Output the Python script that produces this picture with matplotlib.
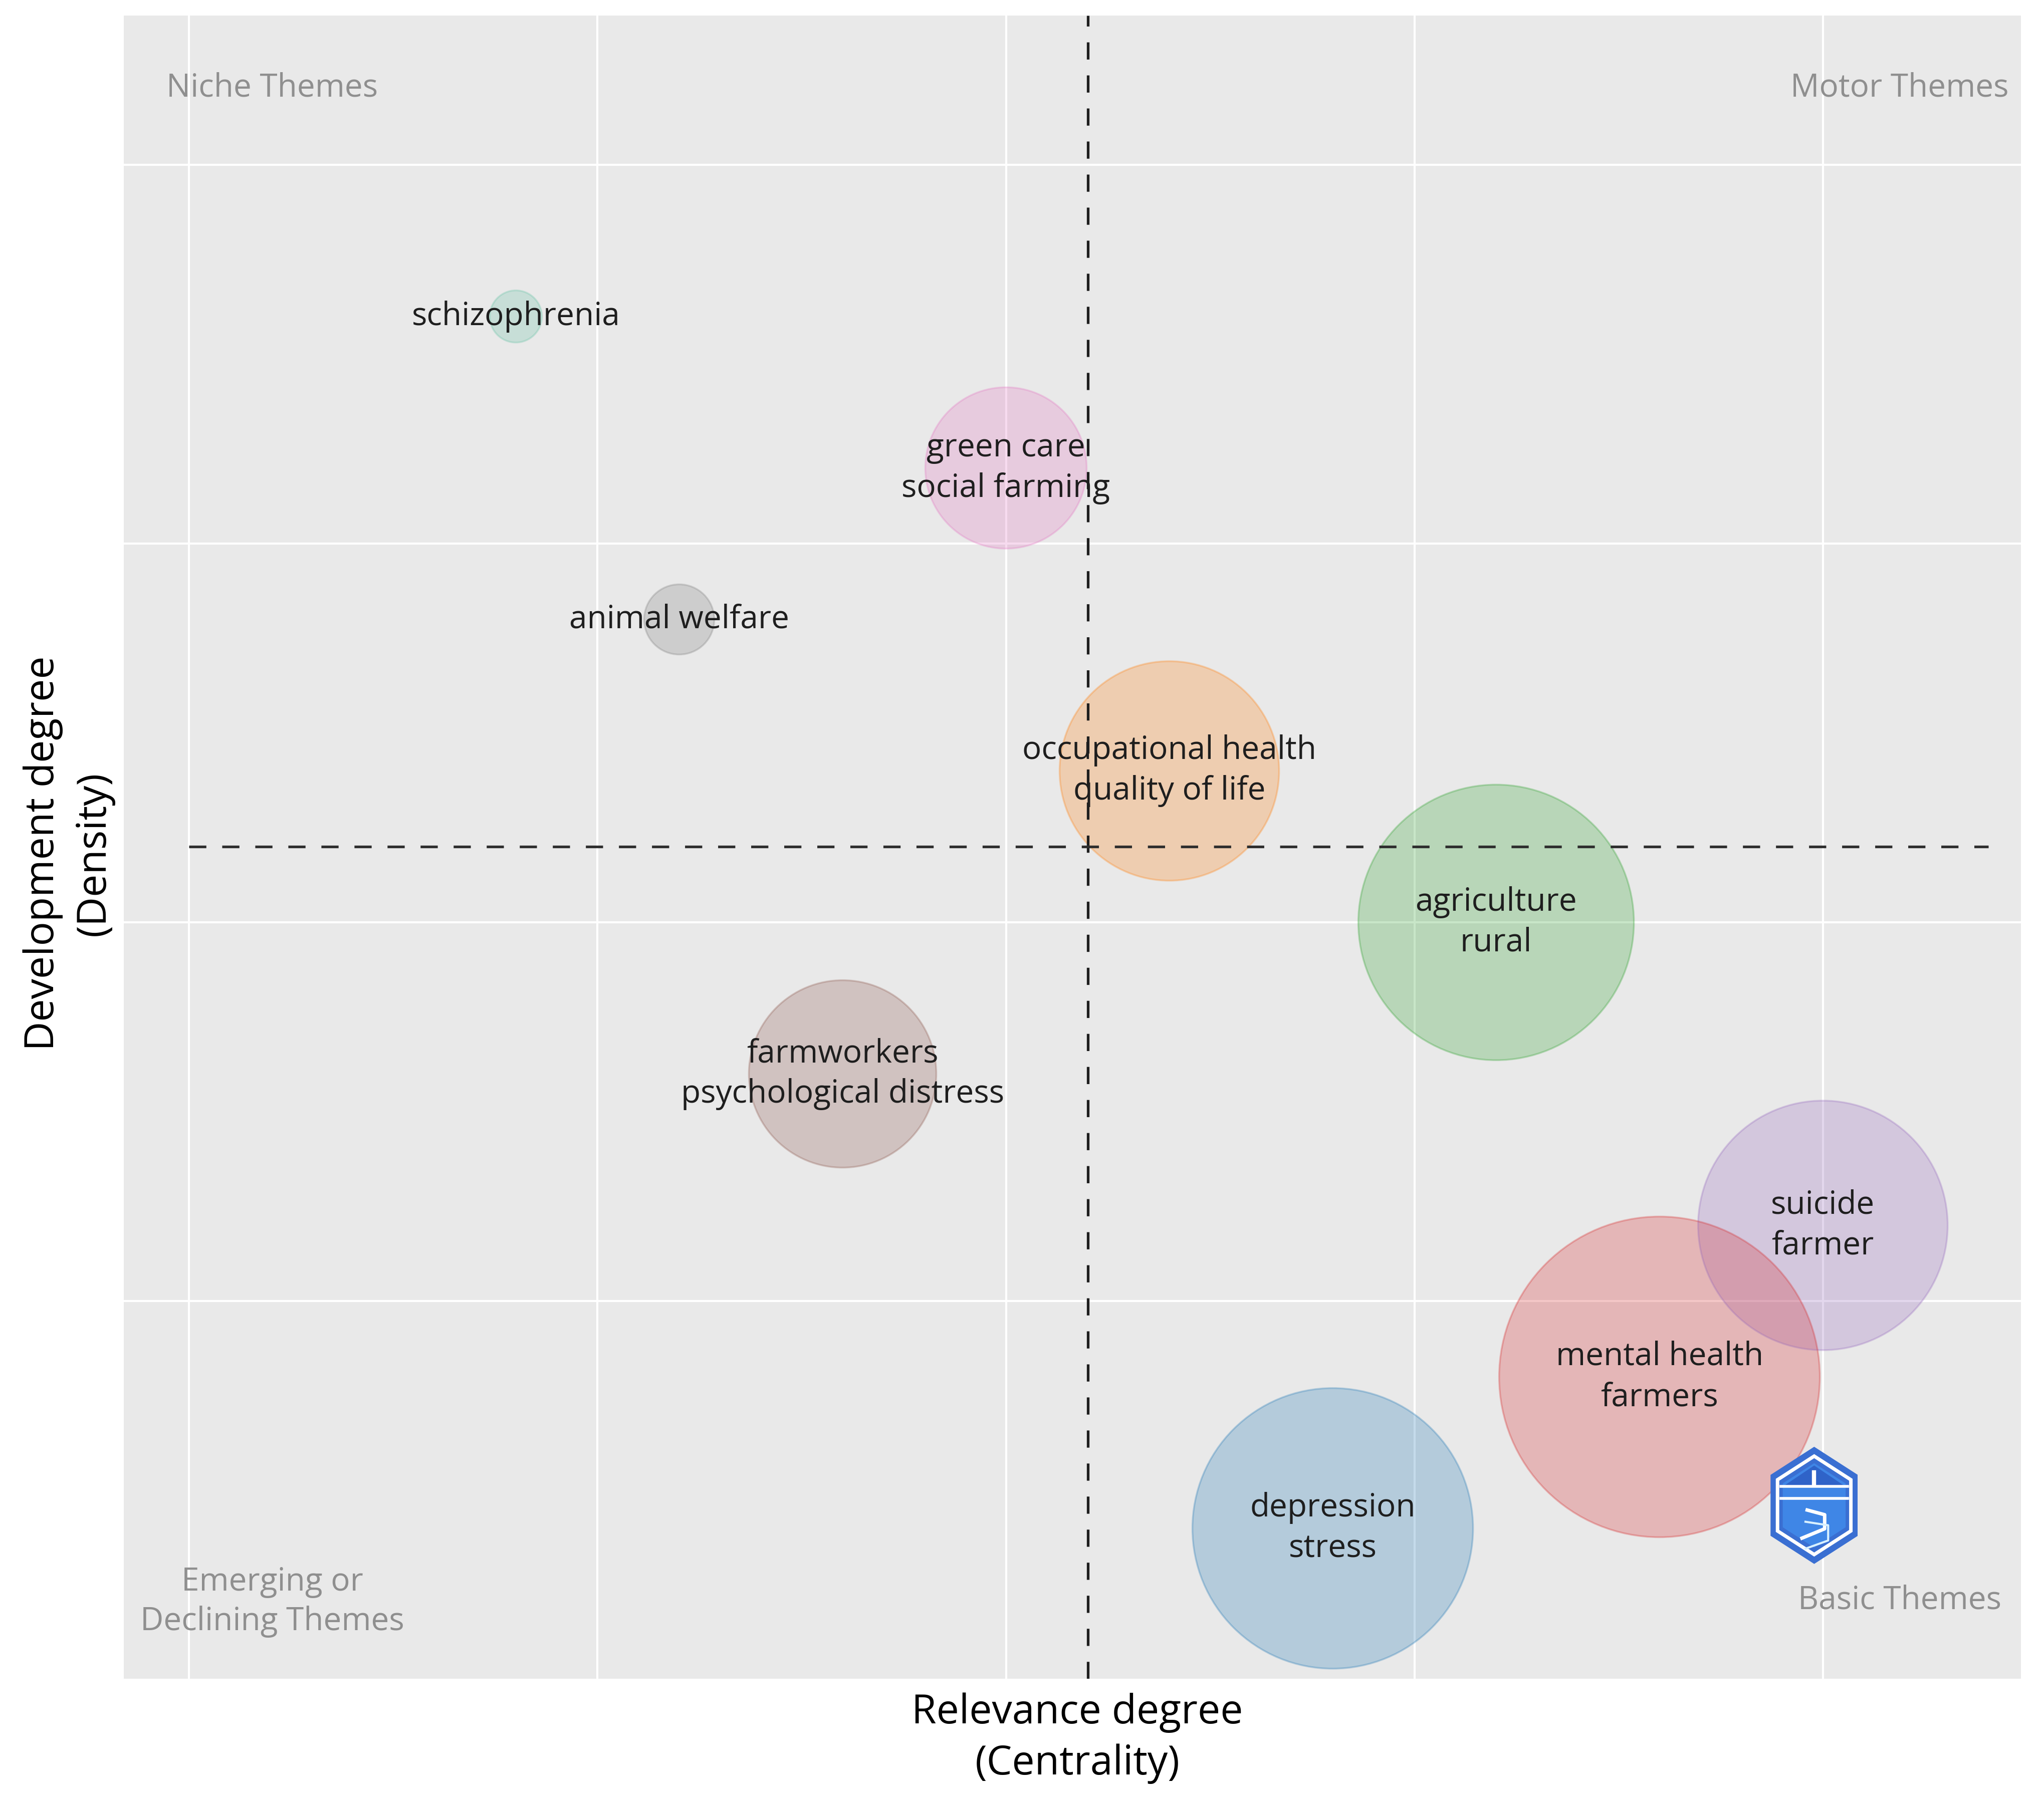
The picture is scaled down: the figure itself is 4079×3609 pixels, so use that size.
import matplotlib
matplotlib.use("Agg")
import matplotlib.pyplot as plt
from matplotlib.patches import Polygon
import numpy as np

plt.rcParams['font.family'] = ['Open Sans', 'DejaVu Sans']

# clusters of the thematic map
labels = ['schizophrenia',
          'green care\nsocial farming',
          'animal welfare',
          'occupational health\nquality of life',
          'agriculture\nrural',
          'farmworkers\npsychological distress',
          'suicide\nfarmer',
          'mental health\nfarmers',
          'depression\nstress']
centrality = [0.80, 2.00, 1.20, 2.40, 3.20, 1.60, 4.00, 3.60, 2.80]
density = [2.60, 2.20, 1.80, 1.40, 1.00, 0.60, 0.20, -0.20, -0.60]
bubble = [52, 161, 70, 219, 275, 187, 249, 320, 280]  # bubble radius
colors = ['#66c2a5', '#e377c2', '#7f7f7f', '#ff7f0e', '#2ca02c',
          '#8c564b', '#9467bd', '#d62728', '#1f77b4']

centrality_cut = 2.20
density_cut = 1.20

DPI = 100
fig = plt.figure(figsize=(40.8, 36.09), dpi=DPI)
ax = fig.add_axes([0.0605, 0.0715, 0.928, 0.920])
ax.set_facecolor('#e9e9e9')

sizes = [(2 * r * 72 / DPI) ** 2 for r in bubble]
ax.scatter(centrality, density, s=sizes, c=colors, alpha=0.26,
           linewidths=0, zorder=2)
ax.scatter(centrality, density, s=sizes, facecolors='none',
           edgecolors=colors, alpha=0.3, linewidths=2.5, zorder=2)

for x, y, lab in zip(centrality, density, labels):
    ax.text(x, y, lab, ha='center', va='center', fontsize=46,
            color='#1e1e1e', linespacing=1.35, zorder=3)

# reference lines
ax.axvline(centrality_cut, color='#1e1e1e', lw=3.8, dashes=(6.5, 6), zorder=4)
ax.hlines(density_cut, 0, 4.405, color='#2e2e2e', lw=3.8,
          linestyles=(0, (6.5, 6)), zorder=4)

# quadrant names
qcol = '#8f8f8f'
ax.text(0.204, 3.203, 'Niche Themes', ha='center', va='center',
        fontsize=46, color=qcol)
ax.text(4.188, 3.203, 'Motor Themes', ha='center', va='center',
        fontsize=46, color=qcol)
ax.text(0.204, -0.794, 'Emerging or\nDeclining Themes', ha='center',
        va='center', fontsize=46, color=qcol, linespacing=1.3)
ax.text(4.188, -0.790, 'Basic Themes', ha='center', va='center',
        fontsize=46, color=qcol)

ax.set_xlim(-0.16, 4.485)
ax.set_ylim(-0.997, 3.395)
ax.set_xticks([0, 1, 2, 3, 4])
ax.set_yticks([0, 1, 2, 3])
ax.tick_params(length=0, labelbottom=False, labelleft=False)
ax.grid(True, color='white', lw=3)
ax.set_axisbelow(True)
for sp in ax.spines.values():
    sp.set_visible(False)

fig.text(0.527, 0.0385, 'Relevance degree\n(Centrality)', ha='center',
         va='center', fontsize=58, linespacing=1.35)
fig.text(0.0335, 0.528, 'Development degree\n(Density)', ha='center',
         va='center', fontsize=58, rotation=90, linespacing=1.35)

# logo
lax = fig.add_axes([0.866, 0.135, 0.0427, 0.0648])
lax.set_xlim(0, 1)
lax.set_ylim(0, 1)
lax.axis('off')
hexv = np.array([[0.5, 1], [1, 0.76], [1, 0.24], [0.5, 0], [0, 0.24], [0, 0.76]])
lax.add_patch(Polygon(hexv, closed=True, fc='#3a6fd2', ec='none'))
inner = 0.5 + (hexv - 0.5) * 0.84
lax.add_patch(Polygon(inner, closed=True, fc='none', ec='white', lw=5))
inner2 = 0.5 + (hexv - 0.5) * 0.72
lax.add_patch(Polygon(inner2, closed=True, fc='#3f86e6', ec='none'))
lax.add_patch(Polygon([[0.14, 0.66], [0.86, 0.66], [0.5, 0.84]], closed=True,
                      fc='#2f63c8', ec='none'))
lax.plot([0.12, 0.88], [0.66, 0.66], color='white', lw=4)
lax.plot([0.12, 0.88], [0.56, 0.56], color='white', lw=4)
lax.plot([0.5, 0.5], [0.68, 0.78], color='white', lw=6)
lax.plot([0.42, 0.62, 0.62, 0.36], [0.46, 0.42, 0.30, 0.22], color='white', lw=5)
lax.plot([0.40, 0.66, 0.66, 0.40], [0.36, 0.33, 0.20, 0.13], color='#d9f1ff', lw=3)

fig.savefig('out.png', dpi=DPI, facecolor='white')
